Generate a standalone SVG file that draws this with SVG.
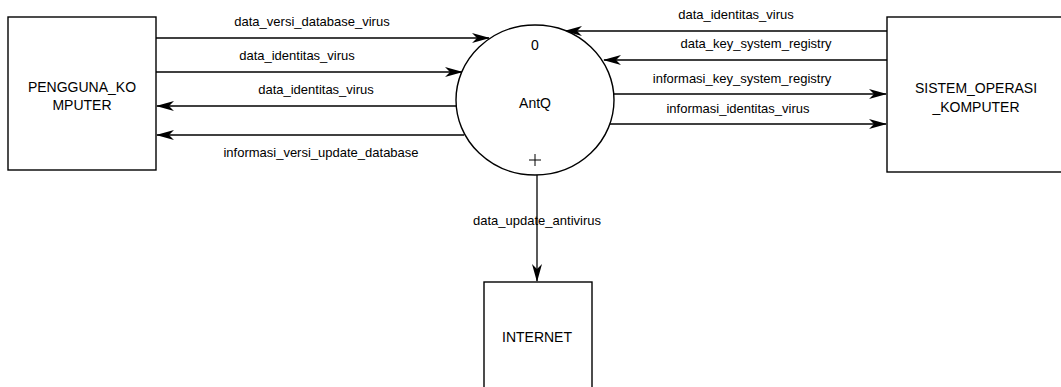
<svg xmlns="http://www.w3.org/2000/svg" width="1061" height="387" viewBox="0 0 1061 387">
<style>
.box{fill:#fff;stroke:#000;stroke-width:1.4}
.proc{fill:#fff;stroke:#000;stroke-width:1.4}
.t{font-family:"Liberation Sans",Arial,sans-serif;font-size:13px;fill:#000;text-anchor:middle;dominant-baseline:central}
.n{font-size:14px}
.c{fill:none;stroke:#000;stroke-width:1.3}
</style>
<defs>
<marker id="ah" markerWidth="18" markerHeight="11" refX="17" refY="5.5" orient="auto" markerUnits="userSpaceOnUse">
<path d="M0,0.5 L18,5.5 L0,10.5 L5,5.5 Z" fill="#000"/>
</marker>
</defs>
<g id="connectors">
<line class="c" x1="156" y1="38" x2="489" y2="38" marker-end="url(#ah)"/>
<line class="c" x1="156" y1="72" x2="462" y2="72" marker-end="url(#ah)"/>
<line class="c" x1="457" y1="106" x2="157" y2="106" marker-end="url(#ah)"/>
<line class="c" x1="464" y1="135" x2="157" y2="135" marker-end="url(#ah)"/>
<line class="c" x1="887" y1="31" x2="565" y2="31" marker-end="url(#ah)"/>
<line class="c" x1="887" y1="60" x2="604" y2="60" marker-end="url(#ah)"/>
<line class="c" x1="613" y1="94" x2="886" y2="94" marker-end="url(#ah)"/>
<line class="c" x1="609" y1="124" x2="886" y2="124" marker-end="url(#ah)"/>
<line class="c" x1="537" y1="175" x2="537" y2="281" marker-end="url(#ah)"/>
<text class="t" x="312" y="21">data_versi_database_virus</text>
<text class="t" x="297" y="55">data_identitas_virus</text>
<text class="t" x="316" y="89">data_identitas_virus</text>
<text class="t" x="321" y="152">informasi_versi_update_database</text>
<text class="t" x="736" y="14">data_identitas_virus</text>
<text class="t" x="756" y="43">data_key_system_registry</text>
<text class="t" x="742" y="78">informasi_key_system_registry</text>
<text class="t" x="738" y="108">informasi_identitas_virus</text>
<text class="t" x="537" y="220">data_update_antivirus</text>
</g>
<g id="node-pengguna">
<rect class="box" x="8" y="17" width="148" height="153"/>
<text class="t n" x="82" y="87">PENGGUNA_KO</text>
<text class="t n" x="82" y="105">MPUTER</text>
</g>
<g id="node-antq">
<ellipse class="proc" cx="535" cy="100" rx="79" ry="75"/>
<text class="t n" x="535" y="45">0</text>
<text class="t n" x="535" y="103">AntQ</text>
<path d="M529,160 H541 M535,154 V166" stroke="#000" stroke-width="1"/>
</g>
<g id="node-sistem">
<rect class="box" x="887" y="17" width="180" height="155"/>
<text class="t n" x="976" y="88">SISTEM_OPERASI</text>
<text class="t n" x="976" y="107">_KOMPUTER</text>
</g>
<g id="node-internet">
<rect class="box" x="484" y="282" width="108" height="110"/>
<text class="t n" x="537" y="337">INTERNET</text>
</g>
</svg>
